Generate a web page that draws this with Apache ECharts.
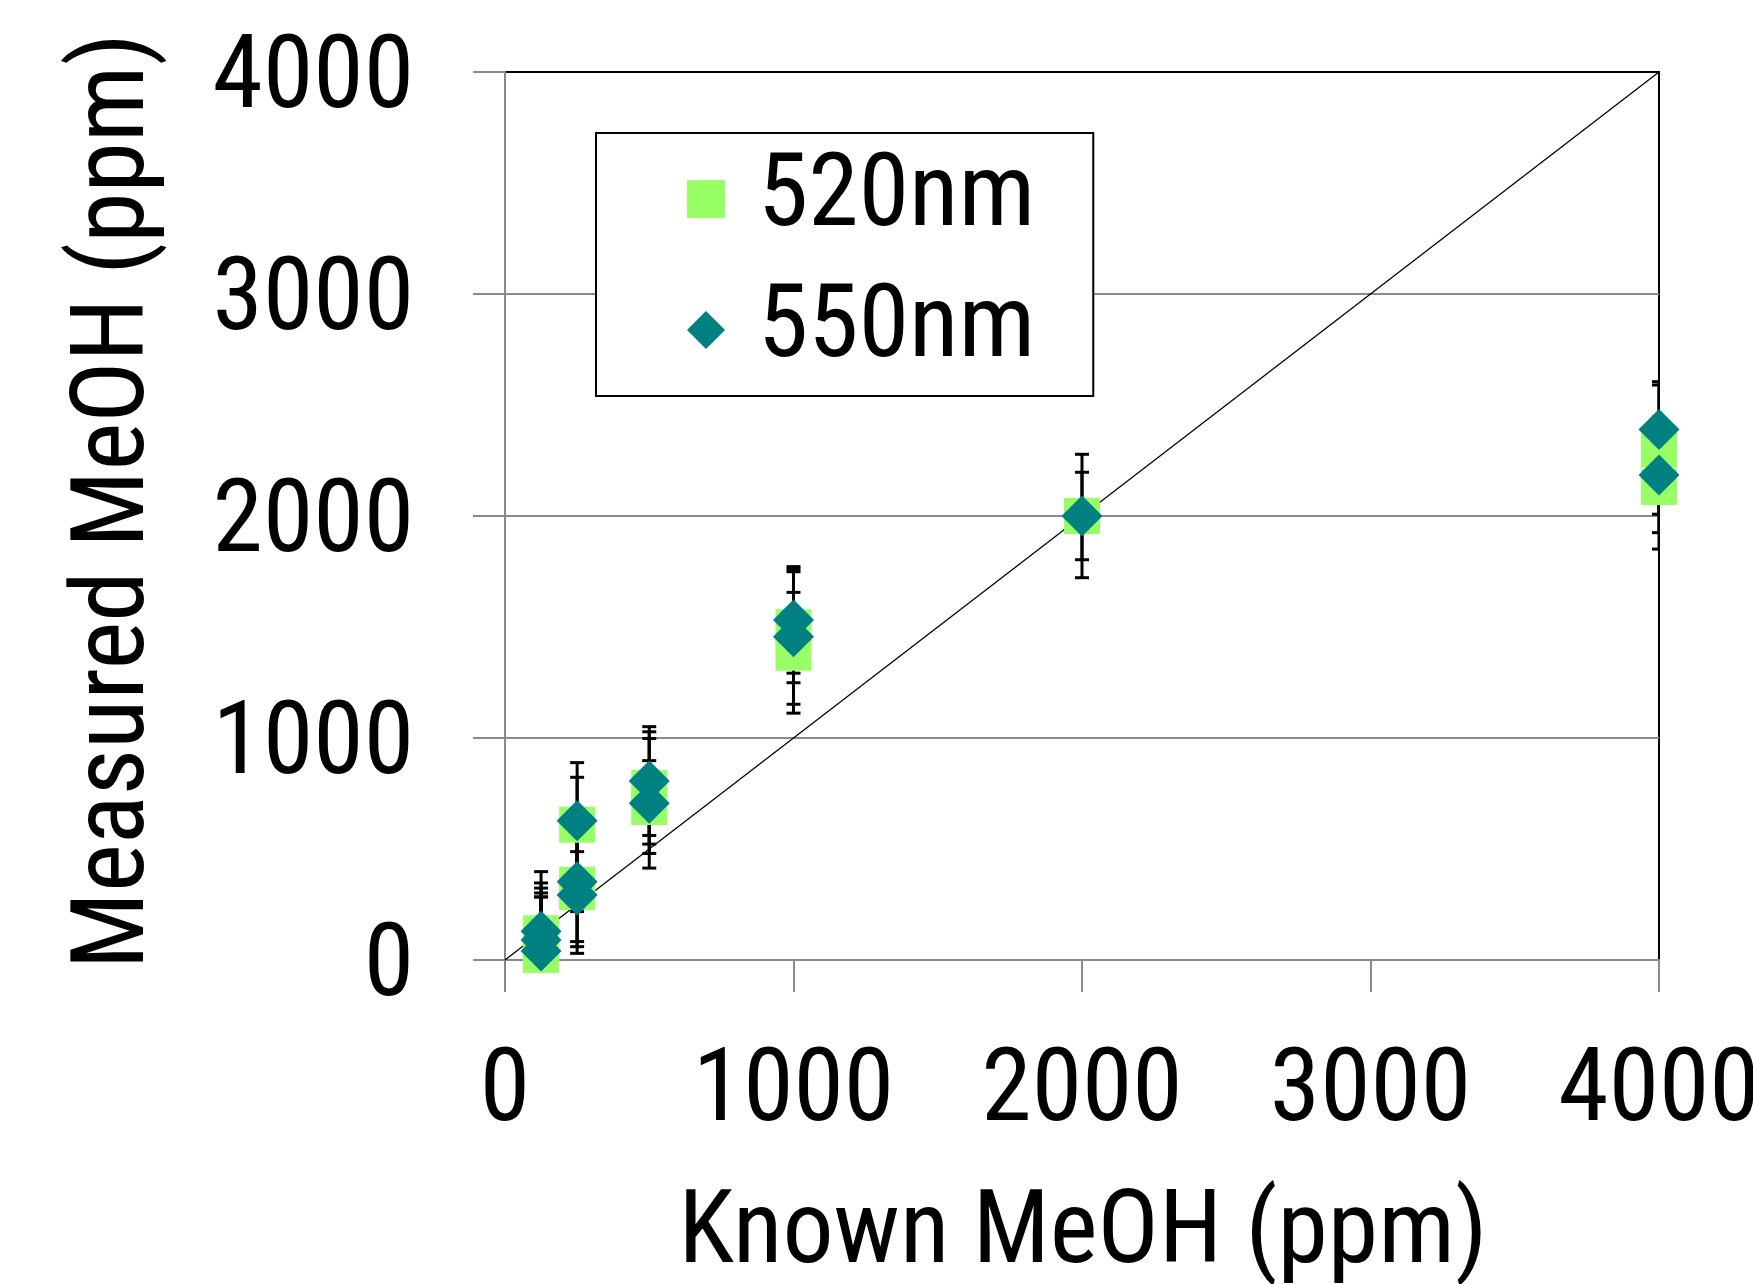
<!DOCTYPE html>
<html>
<head>
<meta charset="utf-8">
<title>Measured vs Known MeOH</title>
<script src="https://cdn.jsdelivr.net/npm/echarts@6/dist/echarts.min.js"></script>
<style>
  html, body { margin: 0; padding: 0; background: #fff; }
  #chart { width: 1753px; height: 1284px; }
</style>
</head>
<body>
<div id="chart"></div>
<script>
const x520 = [125, 125, 125, 250, 250, 250, 500, 500, 1000, 1000, 2000, 4000, 4000];
const y520 = [120, 70, 22, 609, 339, 306, 775, 689, 1499, 1384, 2000, 2299, 2131];
const err520 = [227, 232, 262, 214, 256, 246, 253, 209, 250, 272, 197, 291, 280];

const x550 = [125, 125, 125, 250, 250, 250, 500, 500, 1000, 1000, 2000, 4000, 4000];
const y550 = [130, 90, 40, 627, 353, 293, 806, 706, 1532, 1456, 2000, 2390, 2185];
const err550 = [268, 234, 244, 262, 135, 263, 245, 292, 240, 304, 278, 215, 260];

// 1:1 reference line
const lineX = [0, 4000];
const lineY = [0, 4000];

const seriesNames = ["520nm", "550nm"];

// no narrow Arial here, Roboto with the condensed stretch is the closest
const FAMILY = "Roboto";
const STRETCH = "condensed";
const FSIZE = 102;
const GRAY = "#8a8a8a";

function zip(xs, ys, es) {
  return xs.map((x, i) => (es ? [x, ys[i], es[i]] : [x, ys[i]]));
}

// vertical error bar with caps
function renderErrorBar(params, api) {
  let x = api.value(0);
  let y = api.value(1);
  let e = api.value(2);
  let hi = api.coord([x, y + e]);
  let lo = api.coord([x, y - e]);
  let cap = 7;
  let style = { stroke: "#000", lineWidth: 3 };
  return {
    type: "group",
    children: [
      { type: "line", shape: { x1: hi[0], y1: hi[1], x2: lo[0], y2: lo[1] }, style: style },
      { type: "line", shape: { x1: hi[0] - cap, y1: hi[1], x2: hi[0] + cap, y2: hi[1] }, style: style },
      { type: "line", shape: { x1: lo[0] - cap, y1: lo[1], x2: lo[0] + cap, y2: lo[1] }, style: style },
    ],
  };
}

let labelStyle = {
  fontFamily: FAMILY,
  fontStyle: STRETCH,
  fontSize: FSIZE,
  color: "#000",
};

let chart = echarts.init(document.getElementById("chart"));

let option = {
  animation: false,
  backgroundColor: "#fff",
  grid: {
    left: 505,
    top: 72,
    width: 1154,
    height: 888,
    containLabel: false,
    outerBoundsMode: "none",
    show: true,
    borderColor: "#000",
    borderWidth: 2,
    backgroundColor: "transparent",
  },
  legend: {
    data: [
      { name: seriesNames[0], icon: "rect" },
      { name: seriesNames[1], icon: "diamond" },
    ],
    orient: "vertical",
    left: 596,
    top: 133,
    itemWidth: 38,
    itemHeight: 38,
    itemGap: 11,
    padding: [6, 58, 6, 91],
    backgroundColor: "#fff",
    borderColor: "#000",
    borderWidth: 2,
    selectedMode: false,
    z: 10,
    textStyle: Object.assign({}, labelStyle, {
      lineHeight: 120,
      padding: [0, 0, 0, 28],
    }),
  },
  xAxis: {
    type: "value",
    min: 0,
    max: 4000,
    interval: 1000,
    axisLine: { show: true, lineStyle: { color: GRAY, width: 2 } },
    axisTick: { show: true, inside: false, length: 32, lineStyle: { color: GRAY, width: 2 } },
    splitLine: { show: false },
    axisLabel: Object.assign({}, labelStyle, {
      margin: 83,
      formatter: (v) => String(v),
    }),
  },
  yAxis: {
    type: "value",
    min: 0,
    max: 4000,
    interval: 1000,
    axisLine: { show: true, lineStyle: { color: GRAY, width: 2 } },
    axisTick: { show: true, inside: false, length: 32, lineStyle: { color: GRAY, width: 2 } },
    splitLine: {
      show: true,
      showMinLine: false,
      showMaxLine: false,
      lineStyle: { color: GRAY, width: 2 },
    },
    axisLabel: Object.assign({}, labelStyle, {
      margin: 91,
      verticalAlign: "top",
      lineHeight: 18,
      formatter: (v) => String(v),
    }),
  },
  graphic: [
    {
      type: "text",
      x: 1083,
      y: 1236,
      style: {
        text: "Known MeOH (ppm)",
        font: STRETCH + " " + FSIZE + "px " + FAMILY,
        fill: "#000",
        textAlign: "center",
        textVerticalAlign: "middle",
      },
    },
    {
      type: "text",
      x: 117,
      y: 501,
      rotation: Math.PI / 2,
      style: {
        text: "Measured MeOH (ppm)",
        font: STRETCH + " " + FSIZE + "px " + FAMILY,
        fill: "#000",
        textAlign: "center",
        textVerticalAlign: "middle",
      },
    },
  ],
  series: [
    {
      name: "ref",
      type: "line",
      data: zip(lineX, lineY),
      symbol: "none",
      silent: true,
      lineStyle: { color: "#000", width: 1.3 },
      z: 1,
    },
    {
      name: "err520",
      type: "custom",
      renderItem: renderErrorBar,
      data: zip(x520, y520, err520),
      clip: true,
      silent: true,
      z: 2,
    },
    {
      name: "err550",
      type: "custom",
      renderItem: renderErrorBar,
      data: zip(x550, y550, err550),
      clip: true,
      silent: true,
      z: 2,
    },
    {
      name: seriesNames[0],
      type: "scatter",
      data: zip(x520, y520),
      symbol: "rect",
      symbolSize: 36,
      itemStyle: { color: "#99ff66", opacity: 1 },
      z: 3,
    },
    {
      name: seriesNames[1],
      type: "scatter",
      data: zip(x550, y550),
      symbol: "diamond",
      symbolSize: 41,
      itemStyle: { color: "#008080", opacity: 1 },
      z: 4,
    },
  ],
};

chart.setOption(option);
</script>
</body>
</html>
